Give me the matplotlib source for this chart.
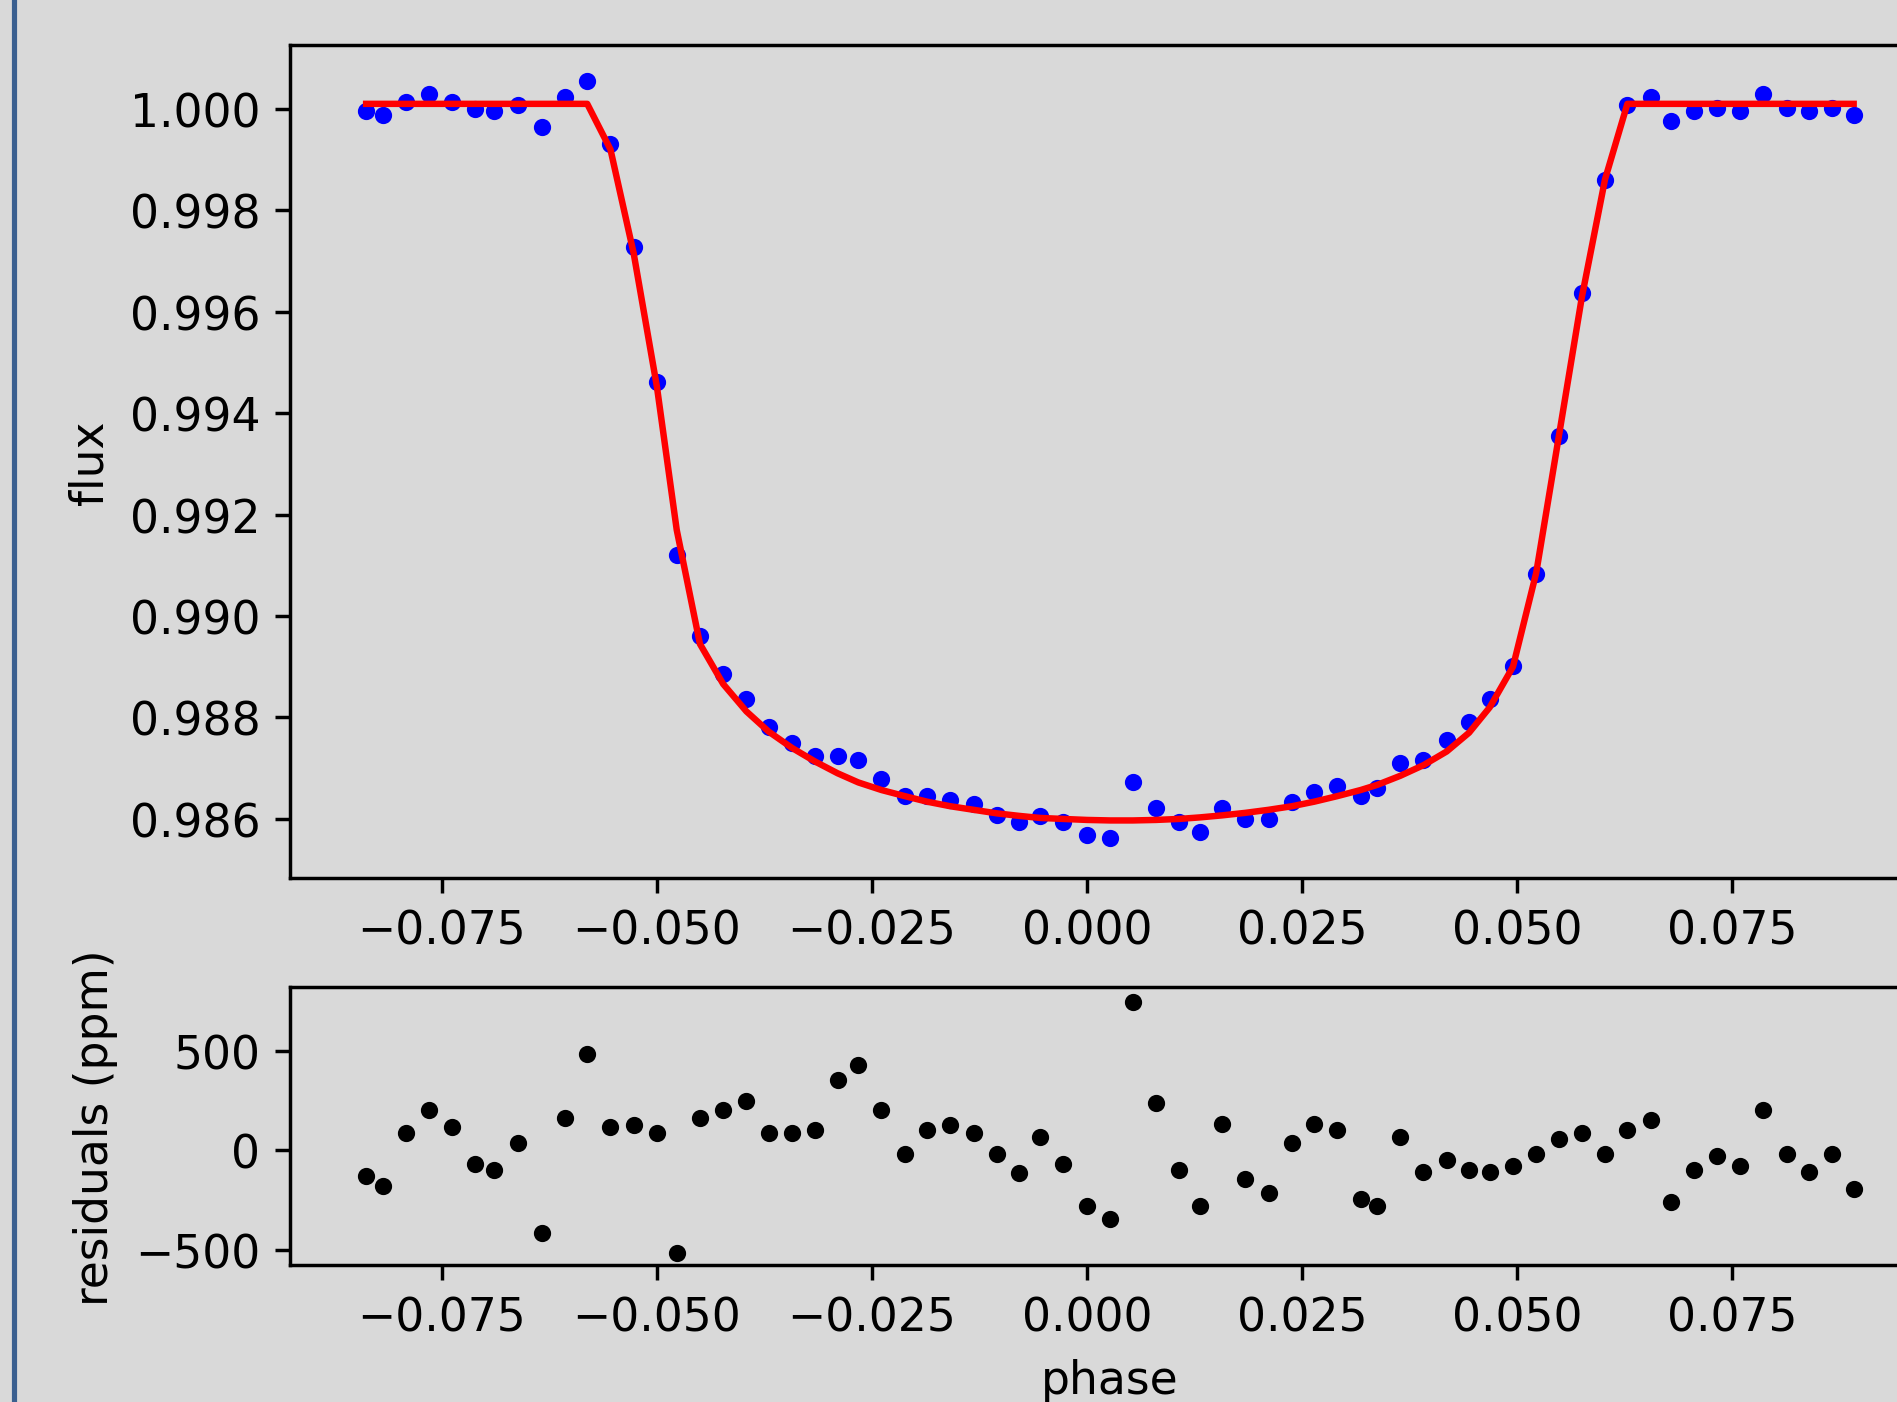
import numpy as np
import matplotlib.pyplot as plt
from matplotlib.lines import Line2D

# phase-folded transit: binned flux, model and residuals
phase = [-0.0838, -0.0818, -0.0792, -0.0765, -0.0738, -0.0711, -0.0689,
         -0.0662, -0.0634, -0.0607, -0.0581, -0.0554, -0.0527, -0.0500,
         -0.0477, -0.0450, -0.0423, -0.0396, -0.0370, -0.0343, -0.0316,
         -0.0290, -0.0266, -0.0239, -0.0212, -0.0186, -0.0159, -0.0132,
         -0.0105, -0.0079, -0.0055, -0.0028, 0.0000, 0.0027, 0.0053,
         0.0080, 0.0107, 0.0131, 0.0157, 0.0184, 0.0211, 0.0238, 0.0264,
         0.0291, 0.0318, 0.0337, 0.0364, 0.0391, 0.0418, 0.0444, 0.0468,
         0.0495, 0.0522, 0.0548, 0.0575, 0.0602, 0.0628, 0.0655, 0.0679,
         0.0706, 0.0732, 0.0759, 0.0786, 0.0813, 0.0839, 0.0866, 0.0891]

flux = [0.99995, 0.99988, 1.00014, 1.00029, 1.00014, 1.00000, 0.99995,
        1.00007, 0.99964, 1.00024, 1.00055, 0.99931, 0.99728, 0.99461,
        0.99120, 0.98960, 0.98886, 0.98836, 0.98781, 0.98750, 0.98724,
        0.98724, 0.98717, 0.98679, 0.98645, 0.98645, 0.98638, 0.98629,
        0.98607, 0.98593, 0.98605, 0.98593, 0.98569, 0.98562, 0.98672,
        0.98621, 0.98593, 0.98574, 0.98621, 0.98600, 0.98600, 0.98633,
        0.98653, 0.98664, 0.98645, 0.98660, 0.98710, 0.98717, 0.98755,
        0.98791, 0.98836, 0.98901, 0.99082, 0.99356, 0.99637, 0.99859,
        1.00007, 1.00024, 0.99976, 0.99995, 1.00002, 0.99995, 1.00029,
        1.00002, 0.99995, 1.00002, 0.99988]

model = [1.0001, 1.0001, 1.0001, 1.0001, 1.0001, 1.0001, 1.0001,
         1.0001, 1.0001, 1.0001, 1.0001, 0.99920, 0.99715, 0.99452,
         0.99170, 0.98945, 0.98866, 0.98812, 0.98772, 0.98740, 0.98713,
         0.98690, 0.98672, 0.98657, 0.98645, 0.98634, 0.98625, 0.98618,
         0.98611, 0.98606, 0.98602, 0.98600, 0.98598, 0.98597, 0.98597,
         0.98598, 0.98600, 0.98603, 0.98607, 0.98612, 0.98618, 0.98625,
         0.98634, 0.98645, 0.98657, 0.98667, 0.98685, 0.98706, 0.98733,
         0.98770, 0.98820, 0.98900, 0.99085, 0.99351, 0.99628, 0.99861,
         1.0001, 1.0001, 1.0001, 1.0001, 1.0001, 1.0001, 1.0001,
         1.0001, 1.0001, 1.0001, 1.0001]

resid_ppm = [-130, -180, 85, 200, 115, -67, -97, 36, -412, 164, 485, 115,
             127, 85, -515, 164, 200, 248, 85, 85, 103, 352, 430, 200, -18,
             103, 127, 85, -18, -115, 67, -67, -279, -345, 745, 236, -97,
             -279, 133, -145, -212, 36, 133, 103, -242, -279, 67, -109, -48,
             -97, -109, -79, -18, 55, 85, -18, 103, 152, -260, -97, -30,
             -79, 200, -18, -109, -18, -194]

BG = "#d9d9d9"
DPI = 310
plt.rcParams["font.size"] = 10.6

fig = plt.figure(figsize=(1897 / DPI, 1403 / DPI), dpi=DPI, facecolor=BG)

# ----- flux panel ----------------------------------------------------------
ax1 = fig.add_axes([0.1531, 0.3733, 0.8635, 0.5939], facecolor=BG)
ax1.plot(phase, flux, "b.")
ax1.plot(phase, model, "r-")
ax1.set_xlim(-0.0926, 0.0978)
ax1.set_ylim(0.98483, 1.00126)
ax1.set_yticks([0.986, 0.988, 0.990, 0.992, 0.994, 0.996, 0.998, 1.000])
ax1.set_xticks([-0.075, -0.05, -0.025, 0.0, 0.025, 0.05, 0.075])
ax1.set_ylabel("flux")
ax1.spines["right"].set_visible(False)

# ----- residuals panel -----------------------------------------------------
ax2 = fig.add_axes([0.1531, 0.0974, 0.8635, 0.1983], facecolor=BG)
ax2.plot(phase, resid_ppm, "k.")
ax2.set_xlim(-0.0926, 0.0978)
ax2.set_ylim(-576, 818)
ax2.set_yticks([-500, 0, 500])
ax2.set_xticks([-0.075, -0.05, -0.025, 0.0, 0.025, 0.05, 0.075])
ax2.set_xlabel("phase")
ax2.set_ylabel("residuals (ppm)")
ax2.spines["right"].set_visible(False)

# window border on the left edge
fig.add_artist(Line2D([0.0074, 0.0074], [0, 1], transform=fig.transFigure,
                      color="#3a5f8f", lw=1.2))

fig.savefig("out.png", dpi=DPI, facecolor=BG)
